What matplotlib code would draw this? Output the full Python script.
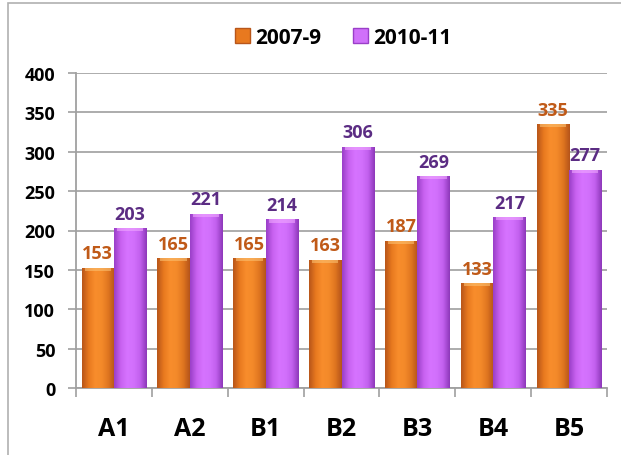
import numpy as np
import matplotlib.pyplot as plt
from matplotlib.patches import Rectangle, Patch
from matplotlib.colors import LinearSegmentedColormap

plt.rcParams['font.family'] = ['Open Sans', 'DejaVu Sans']

categories = ["A1", "A2", "B1", "B2", "B3", "B4", "B5"]
series_names = ["2007-9", "2010-11"]
values_0709 = [153, 165, 165, 163, 187, 133, 335]
values_1011 = [203, 221, 214, 306, 269, 217, 277]
yticks = [0, 50, 100, 150, 200, 250, 300, 350, 400]

orange_cmap = LinearSegmentedColormap.from_list(
    "org", ["#B8561A", "#E8791F", "#F88D2C", "#F48A2A", "#E07620", "#B5541A"])
purple_cmap = LinearSegmentedColormap.from_list(
    "pur", ["#9A3FC8", "#C862F0", "#D673FF", "#D270FC", "#C260EE", "#8E38BA"])

fig = plt.figure(figsize=(6.21, 4.56), dpi=100)
ax = fig.add_axes([76 / 621, 1 - 389 / 456, 531 / 621, 315 / 456])

x = np.arange(len(categories))
w = 0.427
grad = np.linspace(0, 1, 64).reshape(1, -1)


def gradient_bars(xs, vals, cmap, top_color, label_color):
    bars = ax.bar(xs, vals, w, color="none", edgecolor="none", zorder=3)
    for b, v in zip(bars, vals):
        x0 = b.get_x()
        x1 = x0 + b.get_width()
        im = ax.imshow(grad, extent=[x0, x1, 0, v], aspect="auto",
                       cmap=cmap, zorder=3, interpolation="bicubic")
        im.set_clip_path(b)
        # light top bevel
        ax.add_patch(Rectangle((x0 + 0.04, v - 4), b.get_width() - 0.08, 4,
                               facecolor=top_color, edgecolor="none",
                               alpha=0.6, zorder=4))
        ax.annotate(str(v), (b.get_x() + b.get_width() / 2, v),
                    xytext=(0, 4), textcoords="offset points",
                    ha="center", va="bottom", fontsize=13, fontweight="bold",
                    color=label_color, zorder=5)
    return bars


gradient_bars(x - w / 2, values_0709, orange_cmap, "#FBC070", "#C05A18")
gradient_bars(x + w / 2, values_1011, purple_cmap, "#F0A8FF", "#5B2C83")

ax.set_xlim(-0.5, len(categories) - 0.5)
ax.set_ylim(0, 400)
ax.set_yticks(yticks)
ax.set_yticklabels([str(t) for t in yticks], fontsize=13, fontweight="bold")
ax.set_xticks(x)
ax.set_xticklabels(categories, fontsize=18, fontweight="bold")
ax.set_xticks(np.arange(-0.5, len(categories)), minor=True)
ax.tick_params(axis="x", which="major", length=0, pad=20)
ax.tick_params(axis="x", which="minor", length=6.5, color="#A0A0A0", width=1.2)
ax.tick_params(axis="y", length=6, color="#A0A0A0", width=1.2, pad=9)

ax.grid(axis="y", color="#A6A6A6", linewidth=1.3, zorder=0)
ax.set_axisbelow(True)
for s in ["top", "right"]:
    ax.spines[s].set_visible(False)
for s in ["left", "bottom"]:
    ax.spines[s].set_color("#A0A0A0")
    ax.spines[s].set_linewidth(1.3)

handles = [Patch(facecolor="#E8791F", edgecolor="#B8561A"),
           Patch(facecolor="#D070FA", edgecolor="#9A3FC8")]
fig.legend(handles, series_names, loc="center", bbox_to_anchor=(343 / 621, 1 - 38 / 456),
           ncol=2, frameon=False, prop={"weight": "bold", "size": 15},
           handlelength=0.72, handleheight=0.72, handletextpad=0.25,
           columnspacing=1.5)

fig.patches.append(Rectangle((8 / 621, -0.05), 1.2, 1 - 4 / 456 + 0.05,
                             transform=fig.transFigure, fill=False,
                             edgecolor="#B0B0B0", linewidth=1.2))

fig.savefig("out.png", dpi=100)
